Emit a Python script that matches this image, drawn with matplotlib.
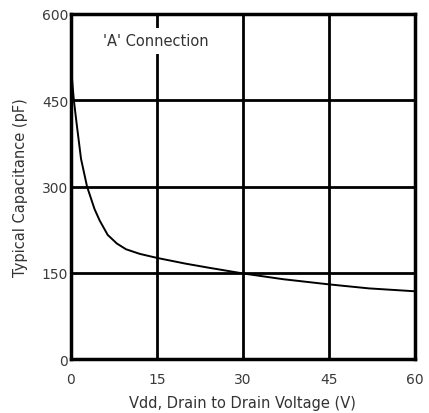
import matplotlib.pyplot as plt

# valeurs
vdd = [0, 0.25, 0.5, 1, 1.75, 2.8, 4.1, 5, 6.4, 8, 9.6, 12, 15, 20, 24, 30, 37, 45, 52, 60]
cap = [510, 478, 450, 408, 348, 300, 261, 241, 216, 201, 191, 183, 176, 166, 159, 149, 139, 130, 123, 118]
xticks = [0, 15, 30, 45, 60]
yticks = [0, 150, 300, 450, 600]

plt.rcParams['font.family'] = ['DejaVu Sans']
fig = plt.figure(figsize=(4.29, 4.14), dpi=100)
ax = fig.add_axes([0.1655, 0.130, 0.8015, 0.834])

ax.plot(vdd, cap, color='black', linewidth=1.4, zorder=3)

ax.set_xlim(0, 60)
ax.set_ylim(0, 600)
ax.set_xticks(xticks)
ax.set_yticks(yticks)
ax.grid(True, color='black', linewidth=2)
ax.tick_params(length=0, labelsize=10, labelcolor='#3a3a3a', pad=9)
ax.tick_params(axis='y', pad=2)
for s in ax.spines.values():
    s.set_linewidth(2.5)

ax.text(5.6, 553, "'A' Connection", fontsize=10.5, color='#333333', ha='left', va='center',
        bbox=dict(facecolor='white', edgecolor='none', pad=4), zorder=4)

ax.set_xlabel('Vdd, Drain to Drain Voltage (V)', fontsize=10.5, color='#333333', labelpad=7)
ax.set_ylabel('Typical Capacitance (pF)', fontsize=10.5, color='#333333', labelpad=10)

fig.savefig('out.png', dpi=100)
